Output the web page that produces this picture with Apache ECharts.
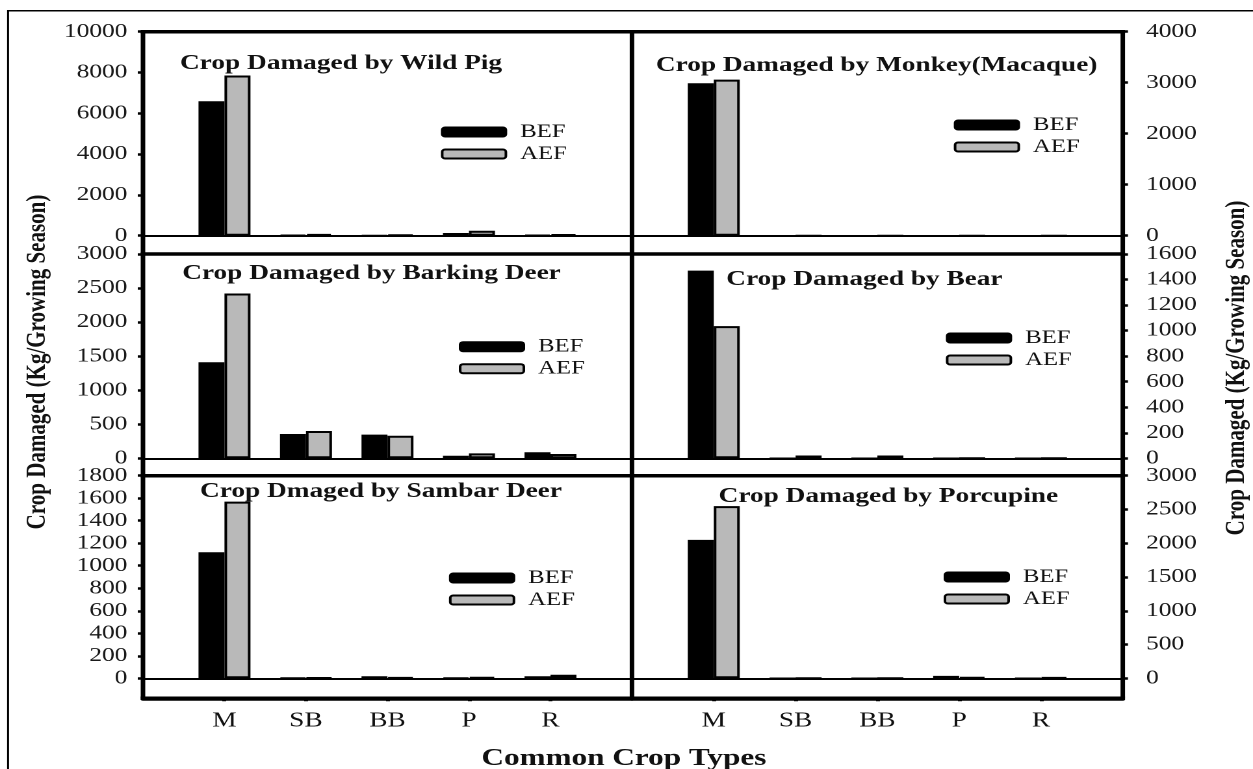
<!DOCTYPE html>
<html>
<head>
<meta charset="utf-8">
<script src="https://cdn.jsdelivr.net/npm/echarts@6/dist/echarts.min.js"></script>
<style>
  html, body { margin: 0; padding: 0; background: #fff; overflow: hidden; }
  #wrap { width: 1253px; height: 769px; overflow: hidden; position: relative; background: #fff; }
  /* the figure is laid out on a 964px-wide canvas and widened to the page */
  #chart { width: 964px; height: 769px; transform: scaleX(1.29979); transform-origin: 0 0; }
</style>
</head>
<body>
<div id="wrap"><div id="chart"></div></div>
<script>
// ---- data ----
const categories = ['M', 'SB', 'BB', 'P', 'R'];
const seriesNames = ['BEF', 'AEF'];

const panelTitles = [
  'Crop Damaged by Wild Pig',
  'Crop Damaged by Monkey(Macaque)',
  'Crop Damaged by Barking Deer',
  'Crop Damaged by Bear',
  'Crop Dmaged by Sambar Deer',
  'Crop Damaged by Porcupine'
];

const wildPigBEF   = [6590, 40, 20, 130, 50];
const wildPigAEF   = [7850, 80, 50, 240, 70];
const monkeyBEF    = [2990, 0, 0, 0, 0];
const monkeyAEF    = [3060, 0, 0, 0, 0];
const barkingBEF   = [1410, 357, 347, 38, 88];
const barkingAEF   = [2420, 400, 332, 73, 63];
const bearBEF      = [1470, 0, 0, 0, 0];
const bearAEF      = [1035, 22, 22, 0, 0];
const sambarBEF    = [1120, 5, 18, 5, 18];
const sambarAEF    = [1570, 5, 8, 10, 32];
const porcupineBEF = [2050, 0, 0, 35, 0];
const porcupineAEF = [2550, 0, 0, 15, 12];

// y-axis tick ranges (max, step) for each panel
const yMax  = [10000, 4000, 3000, 1600, 1800, 3000];
const yStep = [2000, 1000, 500, 200, 200, 500];

const yTitle = 'Crop Damaged (Kg/Growing Season)';
const xTitle = 'Common Crop Types';

// ---- layout ----
const befSeries = [wildPigBEF, monkeyBEF, barkingBEF, bearBEF, sambarBEF, porcupineBEF];
const aefSeries = [wildPigAEF, monkeyAEF, barkingAEF, bearAEF, sambarAEF, porcupineAEF];

const colX = [{ x: 110, w: 376.2, side: 'left' }, { x: 486.2, w: 377.6, side: 'right' }];
const rowY = [{ top: 31.7, h: 204 }, { top: 254, h: 204.3 }, { top: 475.7, h: 202.6 }];
const frameTop = 31.7, frameBottom = 698.3;
const titlePos  = [[138.5, 53], [504.6, 55], [140.2, 263], [558.8, 269], [153.9, 481], [552.9, 486]];
const legendPos = [[339.2, 122.5], [733.8, 115.5], [353, 337.2], [727.7, 328.5], [345.4, 568.5], [726, 567.5]];

const serif = '"Liberation Serif", "Times New Roman", serif';
const axisCats = [''].concat(categories, ['']);

const grid = [], xAxis = [], yAxis = [], series = [], title = [], legend = [];

for (let i = 0; i < 6; i++) {
  const col = colX[i % 2];
  const row = rowY[Math.floor(i / 2)];
  grid.push({ left: col.x, top: row.top, width: col.w, height: row.h, containLabel: false, outerBoundsMode: 'none' });

  // zero line
  xAxis.push({
    type: 'category', gridIndex: i, data: axisCats, boundaryGap: false,
    axisLine: { show: true, lineStyle: { color: '#000', width: 2 } },
    axisTick: { show: false }, axisLabel: { show: false }, splitLine: { show: false }
  });

  yAxis.push({
    type: 'value', gridIndex: i, position: col.side, min: 0, max: yMax[i], interval: yStep[i],
    axisLine: { show: false },
    axisTick: { show: true, length: 4, lineStyle: { color: '#000', width: 2.5 } },
    axisLabel: {
      margin: col.side === 'left' ? 12 : 18, fontSize: 19.5, fontFamily: serif, color: '#1a1a1a',
      formatter: (v) => String(v)
    },
    splitLine: { show: false }
  });

  title.push({
    text: panelTitles[i], left: titlePos[i][0], top: titlePos[i][1], padding: 0,
    textStyle: { fontFamily: serif, fontWeight: 'bold', fontSize: 21, color: '#111' }
  });

  legend.push({
    data: seriesNames, orient: 'vertical', left: legendPos[i][0], top: legendPos[i][1], padding: 0,
    itemWidth: 49, itemHeight: 9, itemGap: 3, icon: 'roundRect', selectedMode: false,
    textStyle: { fontSize: 19, fontFamily: serif, color: '#111', lineHeight: 19, padding: [0, 0, 0, 6] }
  });

  series.push({
    name: 'BEF', type: 'bar', xAxisIndex: i, yAxisIndex: i,
    data: ['-'].concat(befSeries[i], ['-']),
    barWidth: 20, barGap: '0%',
    itemStyle: { color: '#000', borderColor: '#000', borderWidth: 1.5 }
  });
  series.push({
    name: 'AEF', type: 'bar', xAxisIndex: i, yAxisIndex: i,
    data: ['-'].concat(aefSeries[i], ['-']),
    barWidth: 20, barGap: '0%',
    itemStyle: { color: '#b9b9b9', borderColor: '#000', borderWidth: 2 }
  });
}

// category axis along the bottom of the lower panels
for (const i of [4, 5]) {
  xAxis.push({
    type: 'category', gridIndex: i, data: axisCats, boundaryGap: false, position: 'bottom', offset: 20,
    axisLine: { show: true, onZero: false, lineStyle: { color: '#000', width: 3.5 } },
    axisTick: { show: true, length: 3, interval: (idx) => idx >= 1 && idx <= categories.length, lineStyle: { color: '#000', width: 3 } },
    axisLabel: { interval: 0, margin: 12, fontSize: 21, fontFamily: serif, color: '#111' },
    splitLine: { show: false }
  });
}

// panel frame
const frameLine = (x1, y1, x2, y2) => ({
  type: 'line', silent: true, z: 50,
  shape: { x1, y1, x2, y2 },
  style: { stroke: '#000', lineWidth: 3.5 }
});
const xL = colX[0].x, xM = colX[1].x, xR = colX[1].x + colX[1].w;
const graphic = [
  { type: 'polyline', silent: true, shape: { points: [[6.2, 800], [6.2, 10.7], [1000, 10.7]] },
    style: { stroke: '#000', lineWidth: 1.5, fill: null } },
  frameLine(xL - 1.75, frameTop, xR + 1.75, frameTop),
  frameLine(xL - 1.75, rowY[1].top, xR + 1.75, rowY[1].top),
  frameLine(xL - 1.75, rowY[2].top, xR + 1.75, rowY[2].top),
  frameLine(xL - 1.75, frameBottom, xR + 1.75, frameBottom),
  frameLine(xL, frameTop, xL, frameBottom),
  frameLine(xM, frameTop, xM, frameBottom),
  frameLine(xR, frameTop, xR, frameBottom),
  { type: 'text', silent: true, x: 29, y: 362, rotation: Math.PI / 2,
    style: { text: yTitle, fontFamily: serif, fontWeight: 'bold', fontSize: 21, fill: '#111', align: 'center', verticalAlign: 'middle' } },
  { type: 'text', silent: true, x: 951.5, y: 368, rotation: Math.PI / 2,
    style: { text: yTitle, fontFamily: serif, fontWeight: 'bold', fontSize: 21, fill: '#111', align: 'center', verticalAlign: 'middle' } },
  { type: 'text', silent: true, x: 480, y: 759,
    style: { text: xTitle, fontFamily: serif, fontWeight: 'bold', fontSize: 24, fill: '#111', align: 'center', verticalAlign: 'middle' } }
];

const chart = echarts.init(document.getElementById('chart'), null, { renderer: 'canvas', devicePixelRatio: 2 });
chart.setOption({
  backgroundColor: '#fff',
  animation: false,
  title, legend, grid, xAxis, yAxis, series, graphic
});
</script>
</body>
</html>
